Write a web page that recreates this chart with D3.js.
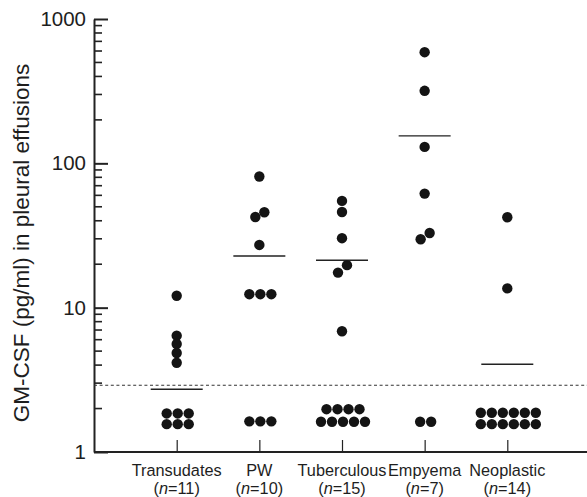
<!DOCTYPE html>
<html><head><meta charset="utf-8">
<script src="https://cdn.jsdelivr.net/npm/d3@7/dist/d3.min.js"></script>
<style>
body{margin:0;background:#fff;}
text{font-family:"Liberation Sans",Arial,sans-serif;fill:#1e1e1e;}
</style></head>
<body><svg id="c" width="587" height="497"></svg>
<script>
const categories = ["Transudates","PW","Tuberculous","Empyema","Neoplastic"];
const counts = ["11","10","15","7","14"];
const transudates = [12.1, 6.4, 5.6, 4.85, 4.15, 1.85, 1.85, 1.85, 1.56, 1.56, 1.56];
const pw = [81, 45.8, 42.5, 27.2, 12.4, 12.4, 12.4, 1.63, 1.63, 1.63];
const tuberculous = [54.9, 46.0, 30.3, 19.7, 17.5, 6.86, 1.98, 1.98, 1.98, 1.98, 1.62, 1.62, 1.62, 1.62, 1.62];
const empyema = [589, 318, 130, 61.7, 32.9, 29.8, 1.62, 1.62];
const neoplastic = [42.3, 13.6, 1.87, 1.87, 1.87, 1.87, 1.87, 1.87, 1.56, 1.56, 1.56, 1.56, 1.56, 1.56];
const groupMeans = [2.72, 22.8, 21.3, 155, 4.05];
const cutoff = 2.9;
const majorTicks = [1, 10, 100, 1000];
const minorSteps = [2, 3, 4, 5, 6, 7, 8, 9];
const yLabel = "GM-CSF (pg/ml) in pleural effusions";

const groups = [transudates, pw, tuberculous, empyema, neoplastic];
const svg = d3.select("#c");
const axisX0 = 94, axisY0 = 452, plotTop = 19, plotRight = 587;
const y = d3.scaleLog().domain([1, 1000]).range([axisY0, plotTop]);
const x = d3.scalePoint().domain(categories).range([176.7, 507.3]);
const r = 5.2, rowGap = 11, dodgeLimit = 8;

// minor ticks
const minorVals = [];
[1, 10, 100].forEach(d => minorSteps.forEach(k => minorVals.push(d * k)));
const gMinor = svg.append("g").attr("class", "minor");
gMinor.selectAll("rect").data(minorVals).join("rect")
  .attr("x", axisX0).attr("y", v => y(v) - 0.8)
  .attr("width", 8).attr("height", 1.6).attr("fill", "#222");

const gY = svg.append("g").attr("transform", `translate(${axisX0},0)`)
  .call(d3.axisLeft(y).tickValues(majorTicks).tickSizeInner(-14).tickSizeOuter(0).tickPadding(8).tickFormat(d3.format("d")));
gY.select(".domain").attr("stroke", "#222").attr("stroke-width", 2);
gY.selectAll("line").attr("stroke", "#222").attr("stroke-width", 2);
gY.selectAll("text").attr("font-size", 20.5).attr("fill", "#1e1e1e")
  .style("font-family", '"Liberation Sans",Arial,sans-serif');

// x axis
const gX = svg.append("g").attr("transform", `translate(0,${axisY0})`)
  .call(d3.axisBottom(x).tickSizeInner(-12).tickSizeOuter(0).tickFormat(""));
gX.select(".domain").attr("d", `M${axisX0},0H${plotRight}`).attr("stroke", "#222").attr("stroke-width", 2);
gX.selectAll("line").attr("stroke", "#222").attr("stroke-width", 1.2);

// category labels
const lab = svg.append("g");
categories.forEach((c, i) => {
  lab.append("text").attr("text-anchor", "middle").attr("font-size", 16.3)
    .attr("x", x(c)).attr("y", 476).text(c);
  const t2 = lab.append("text").attr("text-anchor", "middle").attr("font-size", 16.3).attr("x", x(c)).attr("y", 494);
  t2.append("tspan").text("(");
  t2.append("tspan").attr("font-style", "italic").text("n");
  t2.append("tspan").text("=" + counts[i] + ")");
});

// y label
svg.append("text").attr("transform", `translate(29,243) rotate(-90)`)
  .attr("text-anchor", "middle").attr("font-size", 22.5).text(yLabel);

// cutoff dashed line
svg.append("line").attr("x1", axisX0).attr("x2", plotRight).attr("y1", y(cutoff)).attr("y2", y(cutoff))
  .attr("stroke", "#333").attr("stroke-width", 1.2).attr("stroke-dasharray", "3,2.6");

// mean lines
svg.append("g").selectAll("line").data(groupMeans).join("line")
  .attr("x1", (d, i) => x(categories[i]) - 26).attr("x2", (d, i) => x(categories[i]) + 26)
  .attr("y1", d => y(d)).attr("y2", d => y(d)).attr("stroke", "#222").attr("stroke-width", 1.4);

// dot layout: equal values form rows; close values dodge sideways
const pts = [];
groups.forEach((vals, gi) => {
  const cx = x(categories[gi]);
  const rolled = d3.rollups(vals, v => v.length, v => v).sort((a, b) => b[0] - a[0]);
  let prev = null;
  rolled.forEach(([v, n]) => {
    const py = y(v);
    if (n > 1) {
      for (let k = 0; k < n; k++) pts.push({x: cx + 1 + (k - (n - 1) / 2) * rowGap, y: py});
      prev = null;
    } else {
      if (prev && Math.abs(py - prev.y) < dodgeLimit) {
        prev.x = cx + 5;
        pts.push({x: cx - 4, y: py});
        prev = null;
      } else {
        const p = {x: cx, y: py};
        pts.push(p);
        prev = p;
      }
    }
  });
});
svg.append("g").selectAll("circle").data(pts).join("circle")
  .attr("cx", d => d.x).attr("cy", d => d.y).attr("r", r).attr("fill", "#141414");
</script></body></html>
